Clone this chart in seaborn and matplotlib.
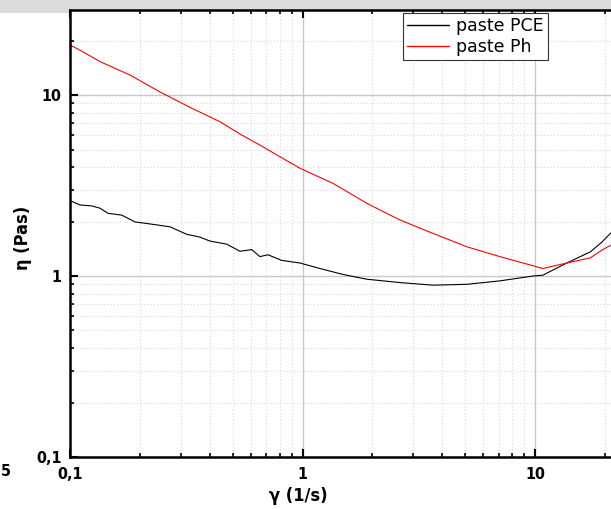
import numpy as np
import pandas as pd
import matplotlib
matplotlib.use("Agg")
import matplotlib.pyplot as plt
from matplotlib.ticker import LogLocator, FuncFormatter, NullFormatter
from matplotlib.patches import Rectangle
import seaborn as sns

# ---- data ----
pce_rate = [0.1, 0.1104, 0.124, 0.1346, 0.1457, 0.1669, 0.1904, 0.2208, 0.2693,
            0.3177, 0.3622, 0.3999, 0.472, 0.5385, 0.6045, 0.656, 0.7104, 0.814,
            0.975, 1.189, 1.493, 1.892, 2.624, 3.64, 5.10, 7.06, 9.80, 10.8,
            13.7, 17.3, 19.4, 21.2]
pce_visc = [2.61, 2.47, 2.44, 2.37, 2.22, 2.17, 1.99, 1.94, 1.87,
            1.70, 1.64, 1.56, 1.50, 1.37, 1.40, 1.28, 1.31, 1.22,
            1.18, 1.10, 1.02, 0.96, 0.92, 0.89, 0.90, 0.94, 1.00, 1.01,
            1.18, 1.36, 1.54, 1.73]

ph_rate = [0.1, 0.1104, 0.1346, 0.1811, 0.2438, 0.328, 0.4416, 0.5385, 0.656,
           0.80, 0.975, 1.353, 1.892, 2.624, 3.64, 5.10, 7.06, 9.80, 10.8,
           13.7, 17.3, 19.4, 21.2]
ph_visc = [18.9, 17.7, 15.3, 12.9, 10.4, 8.55, 7.12, 6.09, 5.29,
           4.56, 3.94, 3.25, 2.52, 2.04, 1.72, 1.45, 1.28, 1.14, 1.10,
           1.18, 1.26, 1.39, 1.48]

series_names = ["paste PCE", "paste Ph"]
series_colors = ["#000000", "#ff0000"]
x_ticks = [0.1, 1, 10]
x_tick_labels = ["0,1", "1", "10"]
y_ticks = [0.1, 1, 10]
y_tick_labels = ["0,1", "1", "10"]
x_label = "γ (1/s)"
y_label = "η (Pas)"

sns.set_theme(style="white")
plt.rcParams["font.family"] = ["DejaVu Sans"]
plt.rcParams["text.color"] = "black"
plt.rcParams["axes.labelcolor"] = "black"
plt.rcParams["xtick.color"] = "black"
plt.rcParams["ytick.color"] = "black"

W, H = 611, 509
fig = plt.figure(figsize=(W / 100, H / 100), dpi=100)
fig.patch.set_facecolor("white")

# grey strip at the top of the screenshot
fig.patches.append(Rectangle((0, 1 - 13 / H), 1, 13 / H, transform=fig.transFigure,
                             facecolor="#dcdcdc", edgecolor="none", zorder=0))

# axes extends beyond the right edge (cropped screenshot)
ax = fig.add_axes([70 / W, 52 / H, 697.5 / W, 447 / H])
ax.set_zorder(1)

df = pd.concat([
    pd.DataFrame({"rate": pce_rate, "visc": pce_visc, "sample": series_names[0]}),
    pd.DataFrame({"rate": ph_rate, "visc": ph_visc, "sample": series_names[1]}),
])
sns.lineplot(data=df, x="rate", y="visc", hue="sample",
             palette=dict(zip(series_names, series_colors)),
             estimator=None, sort=False, linewidth=0.8, ax=ax)

ax.set_xscale("log")
ax.set_yscale("log")
ax.set_xlim(0.1, 100)
ax.set_ylim(0.1, 29.5)

ax.set_xticks(x_ticks)
ax.set_yticks(y_ticks)
ax.xaxis.set_major_formatter(FuncFormatter(lambda v, p: dict(zip(x_ticks, x_tick_labels)).get(v, "")))
ax.yaxis.set_major_formatter(FuncFormatter(lambda v, p: dict(zip(y_ticks, y_tick_labels)).get(v, "")))
ax.xaxis.set_minor_locator(LogLocator(base=10, subs=np.arange(2, 10)))
ax.yaxis.set_minor_locator(LogLocator(base=10, subs=np.arange(2, 10)))
ax.xaxis.set_minor_formatter(NullFormatter())
ax.yaxis.set_minor_formatter(NullFormatter())

tick_font = dict(family="DejaVu Sans", weight="bold", size=11.5, stretch="condensed")
for lab in ax.get_xticklabels() + ax.get_yticklabels():
    lab.set_fontproperties(matplotlib.font_manager.FontProperties(**tick_font))
    lab.set_color("black")

ax.tick_params(which="major", direction="in", length=6, width=1.5, color="black",
               top=True, bottom=True, left=True, right=False, pad=6)
ax.tick_params(which="minor", direction="in", length=3, width=1.2, color="black",
               top=True, bottom=True, left=True, right=False)
ax.tick_params(axis="x", which="major", pad=7)

for side in ["left", "bottom", "top"]:
    ax.spines[side].set_visible(True)
    ax.spines[side].set_linewidth(1.8)
    ax.spines[side].set_color("black")
ax.spines["right"].set_visible(False)

ax.grid(which="major", color="#c8c8c8", linewidth=1.0, linestyle="-")
ax.grid(which="minor", color="#d8d8d8", linewidth=0.8, linestyle=(0, (1, 2)))
ax.set_axisbelow(True)

ax.set_xlabel(x_label, fontsize=13, fontweight="bold", fontstretch="condensed", color="black")
ax.set_ylabel(y_label, fontsize=13, fontweight="bold", fontstretch="condensed", color="black")
ax.xaxis.set_label_coords((298 - 70) / 697.5, (457 - 487) / 447)
ax.yaxis.set_label_coords((32 - 70) / 697.5, (457 - 238) / 447)

leg = ax.legend(loc="upper right", bbox_to_anchor=(548 / W, 1 - 13 / H),
                bbox_transform=fig.transFigure, borderaxespad=0, title=None,
                fontsize=12.5, frameon=True, fancybox=False, framealpha=1,
                edgecolor="#333333", handlelength=2.4, handletextpad=0.4,
                borderpad=0.25, labelspacing=0.15)
leg.get_frame().set_linewidth(0.8)
for line in leg.get_lines():
    line.set_linewidth(1.0)
for t in leg.get_texts():
    t.set_color("black")

# partial tick label of a neighbouring chart at the bottom-left edge
fig.text(0.5 / W, 1 - 472 / H, "5", ha="left", va="center",
         fontsize=11.5, fontweight="bold", fontstretch="condensed", color="black")

fig.savefig("out.png", dpi=100)
